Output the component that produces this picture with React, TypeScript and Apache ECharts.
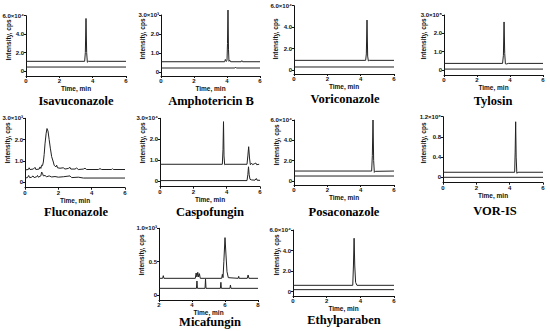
import React, { useEffect, useRef } from "react";
import * as echarts from "echarts";

type Pt = [number, number];

// ---- panel titles & tick labels ----
const titles = [
  "Isavuconazole", "Amphotericin B", "Voriconazole", "Tylosin",
  "Fluconazole", "Caspofungin", "Posaconazole", "VOR-IS",
  "Micafungin", "Ethylparaben",
];
const yTicks: number[][] = [
  [0, 2, 4, 6], [0, 1, 2, 3], [0, 2, 4, 6], [0, 1, 2, 3],
  [0, 1, 2, 3], [0, 1, 2, 3], [0, 2, 4, 6], [0, 0.4, 0.8, 1.2],
  [0, 0.5, 1.0], [0, 2, 4, 6],
];
const yTickLabels: string[][] = [
  ["0", "2.0", "4.0", "6.0×10⁴"], ["0", "1.0", "2.0", "3.0×10³"],
  ["0", "2.0", "4.0", "6.0×10⁴"], ["0", "1.0", "2.0", "3.0×10⁵"],
  ["0", "1.0", "2.0", "3.0×10³"], ["0", "1.0", "2.0", "3.0×10⁴"],
  ["0", "2.0", "4.0", "6.0×10⁴"], ["0", "0.4", "0.8", "1.2×10⁶"],
  ["0", "0.5", "1.0×10³"], ["0", "2.0", "4.0", "6.0×10⁴"],
];
const xRanges: [number, number][] = [
  [0, 6], [0, 6], [0, 6], [0, 6], [0, 6], [0, 6], [0, 6], [0, 6], [2, 8], [0, 6],
];
const xTitle = "Time, min";
const yTitle = "Intensity, cps";

// ---- traces (time, intensity) ----
const isaUpper: Pt[] = [[0, 1.05], [3.52, 1.05], [3.56, 2.0], [3.6, 5.7], [3.64, 2.0], [3.68, 0.95], [3.74, 1.05], [6, 1.05]];
const isaLower: Pt[] = [[0, 0.43], [6, 0.43]];

const ampUpper: Pt[] = [[0, 0.54], [3.86, 0.54], [3.9, 0.66], [3.95, 0.56], [4.0, 0.6], [4.03, 1.5], [4.06, 3.26], [4.09, 1.2], [4.12, 0.56], [4.17, 0.62], [4.22, 0.54], [4.86, 0.54], [4.9, 0.6], [4.94, 0.54], [6, 0.54]];
const ampLower: Pt[] = [[0, 0.21], [4.48, 0.21], [4.52, 0.25], [4.56, 0.21], [6, 0.21]];

const vorUpper: Pt[] = [[0, 0.9], [4.3, 0.9], [4.34, 1.5], [4.38, 4.66], [4.42, 1.3], [4.46, 0.85], [4.52, 0.9], [6, 0.9]];
const vorLower: Pt[] = [[0, 0.28], [6, 0.28]];

const tylUpper: Pt[] = [[0, 0.36], [3.55, 0.36], [3.6, 0.8], [3.64, 2.62], [3.68, 0.9], [3.72, 0.34], [3.8, 0.33], [3.9, 0.36], [6, 0.36]];
const tylLower: Pt[] = [[0, 0.05], [6, 0.05]];

const fluUpper: Pt[] = [[0, 0.58], [0.2, 0.6], [0.25, 0.68], [0.3, 0.6], [0.5, 0.62], [0.6, 0.7], [0.65, 0.6], [0.85, 0.62], [0.9, 0.72], [0.95, 0.65], [1.0, 0.8], [1.05, 0.78], [1.1, 0.95], [1.15, 1.3], [1.2, 1.8], [1.27, 2.3], [1.32, 2.52], [1.38, 2.4], [1.45, 2.0], [1.52, 1.6], [1.6, 1.2], [1.7, 0.95], [1.75, 0.8], [1.85, 0.72], [1.9, 0.8], [1.95, 0.68], [2.1, 0.66], [2.3, 0.68], [2.4, 0.62], [2.6, 0.65], [2.7, 0.7], [2.75, 0.62], [3.0, 0.62], [3.1, 0.67], [3.2, 0.6], [3.5, 0.62], [3.6, 0.66], [3.7, 0.6], [4.4, 0.6], [4.5, 0.64], [4.6, 0.6], [5.2, 0.6], [5.25, 0.64], [5.3, 0.6], [6, 0.6]];
const fluLower: Pt[] = [[0, 0.2], [0.15, 0.22], [0.22, 0.32], [0.28, 0.22], [0.4, 0.24], [0.48, 0.3], [0.55, 0.22], [0.7, 0.26], [0.75, 0.32], [0.8, 0.24], [0.95, 0.3], [1.0, 0.48], [1.05, 0.42], [1.1, 0.3], [1.2, 0.32], [1.3, 0.26], [1.45, 0.3], [1.6, 0.25], [1.8, 0.27], [2.0, 0.24], [2.3, 0.26], [2.7, 0.3], [2.8, 0.22], [3.2, 0.24], [3.5, 0.2], [6, 0.2]];

const cspUpper: Pt[] = [[0, 0.8], [3.74, 0.8], [3.78, 1.5], [3.81, 2.84], [3.84, 1.2], [3.88, 0.78], [3.95, 0.8], [5.22, 0.8], [5.27, 1.2], [5.32, 1.64], [5.37, 1.1], [5.42, 0.78], [5.5, 0.85], [5.55, 0.78], [5.65, 0.82], [5.75, 0.86], [5.8, 0.78], [5.95, 0.8]];
const cspLower: Pt[] = [[0, 0.02], [5.22, 0.02], [5.27, 0.3], [5.31, 0.68], [5.35, 0.3], [5.4, 0.08], [5.5, 0.05], [5.7, 0.04], [5.78, 0.12], [5.82, 0.04], [6, 0.03]];

const posUpper: Pt[] = [[0, 0.98], [4.66, 0.98], [4.7, 2.5], [4.74, 6.0], [4.78, 2.0], [4.82, 0.85], [4.88, 0.95], [6, 0.98]];
const posLower: Pt[] = [[0, 0.49], [6, 0.49]];

const visUpper: Pt[] = [[0, 0.1], [4.3, 0.1], [4.33, 0.5], [4.36, 1.1], [4.39, 0.4], [4.43, 0.08], [4.5, 0.1], [6, 0.1]];
const visLower: Pt[] = [[0, 0], [6, 0]];

const micUpper: Pt[] = [[2, 0.25], [2.22, 0.25], [2.26, 0.29], [2.3, 0.25], [4.2, 0.25], [4.25, 0.33], [4.3, 0.27], [4.35, 0.34], [4.4, 0.27], [4.45, 0.32], [4.5, 0.25], [5.8, 0.25], [5.84, 0.31], [5.88, 0.26], [5.93, 0.5], [6.0, 0.86], [6.06, 0.6], [6.12, 0.35], [6.2, 0.26], [6.8, 0.25], [6.83, 0.28], [6.86, 0.25], [7.35, 0.25], [7.4, 0.3], [7.45, 0.25], [8, 0.25]];
const micLower: Pt[] = [[2, 0.1], [4.27, 0.1], [4.3, 0.21], [4.33, 0.1], [4.79, 0.1], [4.82, 0.24], [4.85, 0.1], [5.72, 0.1], [5.75, 0.19], [5.78, 0.1], [6.3, 0.1], [6.33, 0.15], [6.36, 0.1], [8, 0.1]];

const ethUpper: Pt[] = [[0, 0.62], [3.55, 0.62], [3.59, 2.5], [3.63, 5.2], [3.67, 2.5], [3.72, 0.9], [3.8, 0.62], [6, 0.62]];
const ethLower: Pt[] = [[0, 0.2], [6, 0.2]];

const traces: Pt[][][] = [
  [isaUpper, isaLower], [ampUpper, ampLower], [vorUpper, vorLower], [tylUpper, tylLower],
  [fluUpper, fluLower], [cspUpper, cspLower], [posUpper, posLower], [visUpper, visLower],
  [micUpper, micLower], [ethUpper, ethLower],
];

// ---- layout (pixels): axis x, top-tick y, x-axis end, x-axis line y, zero y ----
const boxes = [
  { l: 26, t: 15.7, r: 126, xa: 76, z: 71 },
  { l: 161, t: 15, r: 260, xa: 76, z: 72 },
  { l: 294, t: 5.7, r: 394, xa: 74, z: 70 },
  { l: 444, t: 15, r: 543, xa: 75, z: 70 },
  { l: 25, t: 118.3, r: 125, xa: 187.7, z: 182.3 },
  { l: 160, t: 118.3, r: 260, xa: 186.7, z: 181 },
  { l: 294, t: 120, r: 394, xa: 185, z: 181 },
  { l: 443, t: 116.7, r: 543, xa: 182.7, z: 177.3 },
  { l: 159, t: 228.3, r: 258, xa: 300, z: 295 },
  { l: 293, t: 230, r: 394, xa: 296, z: 291.7 },
];
const titlePos = [
  [76, 101], [211, 101], [345, 99], [493, 101],
  [76, 212], [210, 212], [344, 212], [495, 211],
  [210, 322], [344, 320],
];
const yNamePos = [
  [8, 40], [142, 39], [275, 39], [423, 39],
  [7, 143], [142, 143], [276, 145], [423, 143],
  [141, 255], [276, 255],
];

const SANS = "'Liberation Sans', Arial, sans-serif";
const SERIF = "'Liberation Serif', 'Times New Roman', serif";
const INK = "#111";

export default function App() {
  const ref = useRef<HTMLDivElement>(null);
  useEffect(() => {
    if (!ref.current) return;
    const chart = echarts.init(ref.current, undefined, { renderer: "svg" });
    const grids: any[] = [];
    const xAxes: any[] = [];
    const yAxes: any[] = [];
    const series: any[] = [];
    const graphics: any[] = [];
    boxes.forEach((b, i) => {
      const ticks = yTicks[i];
      const ymax = ticks[ticks.length - 1];
      const ymin = -((b.xa - b.z) / (b.z - b.t)) * ymax;
      grids.push({ left: b.l, top: b.t, width: b.r - b.l, height: b.xa - b.t, containLabel: false, outerBoundsMode: "none" });
      xAxes.push({
        gridIndex: i, type: "value", min: xRanges[i][0], max: xRanges[i][1], interval: 2,
        axisLine: { show: true, onZero: false, lineStyle: { color: INK, width: 1 } },
        axisTick: { show: true, length: 2, lineStyle: { color: INK, width: 1 } },
        axisLabel: { fontSize: 6, fontWeight: "bold", margin: 2, color: INK, fontFamily: SANS },
        splitLine: { show: false },
        name: xTitle, nameLocation: "middle", nameGap: 12,
        nameTextStyle: { fontSize: 6.5, fontFamily: SANS, color: INK, fontWeight: "bold", verticalAlign: "middle" },
      });
      yAxes.push({
        gridIndex: i, type: "value", min: ymin, max: ymax,
        axisLine: { show: true, onZero: false, lineStyle: { color: INK, width: 1 } },
        axisTick: { show: true, length: 2, customValues: ticks, lineStyle: { color: INK, width: 1 } },
        axisLabel: {
          customValues: ticks, fontSize: 6, fontWeight: "bold", margin: 2, color: INK, fontFamily: SANS,
          formatter: (v: number) => {
            const k = ticks.findIndex((t) => Math.abs(t - v) < 1e-6);
            return k >= 0 ? yTickLabels[i][k] : "";
          },
        },
        splitLine: { show: false },
      });
      traces[i].forEach((tr) => {
        series.push({
          type: "line", xAxisIndex: i, yAxisIndex: i, data: tr, showSymbol: false, symbol: "none",
          clip: false, lineStyle: { color: "#222", width: 1 }, silent: true,
        });
      });
      graphics.push({
        type: "text", x: titlePos[i][0], y: titlePos[i][1],
        style: { text: titles[i], fontFamily: SERIF, fontSize: 12.5, fontWeight: "bold", fill: "#000", textAlign: "center", textVerticalAlign: "middle" },
      });
      graphics.push({
        type: "text", x: yNamePos[i][0], y: yNamePos[i][1], rotation: Math.PI / 2,
        style: { text: yTitle, fontFamily: SANS, fontSize: 6.5, fontWeight: "bold", fill: INK, textAlign: "center", textVerticalAlign: "middle" },
      });
    });
    chart.setOption({
      animation: false,
      backgroundColor: "#fff",
      grid: grids,
      xAxis: xAxes,
      yAxis: yAxes,
      series,
      graphic: graphics,
    });
    return () => chart.dispose();
  }, []);
  return <div ref={ref} style={{ position: "fixed", left: 0, top: 0, width: 550, height: 331 }} />;
}
